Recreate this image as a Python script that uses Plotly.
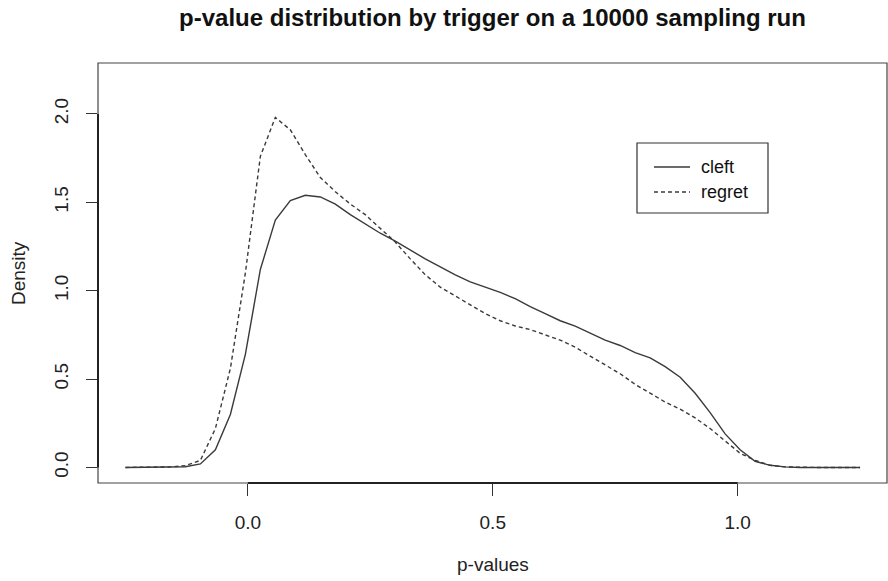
import plotly.graph_objects as go

# Evaluation grid (p-values) of the density curves
p_values = [-0.2500, -0.2194, -0.1888, -0.1582, -0.1276, -0.0969, -0.0663, -0.0357, -0.0051, 0.0255,
            0.0561, 0.0867, 0.1173, 0.1480, 0.1786, 0.2092, 0.2398, 0.2704, 0.3010, 0.3316,
            0.3622, 0.3929, 0.4235, 0.4541, 0.4847, 0.5153, 0.5459, 0.5765, 0.6071, 0.6378,
            0.6684, 0.6990, 0.7296, 0.7602, 0.7908, 0.8214, 0.8520, 0.8827, 0.9133, 0.9439,
            0.9745, 1.0051, 1.0357, 1.0663, 1.0969, 1.1276, 1.1582, 1.1888, 1.2194, 1.2500]

cleft_density = [0.0, 0.0, 0.0, 0.002, 0.004, 0.02, 0.10, 0.30, 0.64, 1.12,
                 1.40, 1.51, 1.54, 1.53, 1.49, 1.43, 1.375, 1.325, 1.28, 1.23,
                 1.18, 1.135, 1.09, 1.05, 1.02, 0.99, 0.955, 0.91, 0.87, 0.83,
                 0.80, 0.76, 0.72, 0.69, 0.65, 0.62, 0.57, 0.51, 0.42, 0.31,
                 0.19, 0.10, 0.035, 0.012, 0.003, 0.0, 0.0, 0.0, 0.0, 0.0]

regret_density = [0.0, 0.0, 0.0, 0.003, 0.01, 0.04, 0.22, 0.56, 1.10, 1.76,
                  1.98, 1.91, 1.77, 1.64, 1.56, 1.49, 1.43, 1.355, 1.275, 1.18,
                  1.09, 1.02, 0.97, 0.92, 0.87, 0.83, 0.80, 0.78, 0.75, 0.72,
                  0.68, 0.63, 0.58, 0.53, 0.47, 0.42, 0.37, 0.33, 0.28, 0.22,
                  0.15, 0.08, 0.04, 0.012, 0.003, 0.0, 0.0, 0.0, 0.0, 0.0]

series_names = ["cleft", "regret"]
series_dashes = ["solid", "4px,3px"]

x_ticks = [0.0, 0.5, 1.0]
x_tick_labels = ["0.0", "0.5", "1.0"]
y_ticks = [0.0, 0.5, 1.0, 1.5, 2.0]
y_tick_labels = ["0.0", "0.5", "1.0", "1.5", "2.0"]

FONT = "Liberation Sans, Arial, Helvetica, sans-serif"
INK = "#222222"
LINE = "#3a3a3a"
FS = 19

# pixel -> paper helpers for the fixed 888x581 canvas (plot area 98..887 x 63..483)
def px_x(px):
    return (px - 98) / 789

def px_y(py):
    return (483 - py) / 420

fig = go.Figure()
for name, ys, dash in zip(series_names, [cleft_density, regret_density], series_dashes):
    fig.add_trace(go.Scatter(x=p_values, y=ys, mode="lines", name=name, showlegend=False,
                             line=dict(color=LINE, width=1.4, dash=dash)))

# plot box
fig.add_shape(type="rect", xref="paper", yref="paper", x0=0, y0=0, x1=1, y1=1,
              line=dict(color="#444444", width=1.2), layer="above")
# R-style axis lines between first and last ticks
fig.add_shape(type="line", xref="x", yref="paper", x0=x_ticks[0], x1=x_ticks[-1], y0=0, y1=0,
              line=dict(color="#222222", width=2), layer="above")
fig.add_shape(type="line", xref="paper", yref="y", x0=0, x1=0, y0=y_ticks[0], y1=y_ticks[-1],
              line=dict(color="#222222", width=2), layer="above")

# legend box (R style)
fig.add_shape(type="rect", xref="paper", yref="paper", x0=px_x(637), x1=px_x(768),
              y0=px_y(213), y1=px_y(143), line=dict(color="#333333", width=1.2),
              fillcolor="white", layer="above")
annotations = []
for i, (name, dash) in enumerate(zip(series_names, series_dashes)):
    yy = px_y(167 + 25 * i)
    fig.add_shape(type="line", xref="paper", yref="paper", x0=px_x(654), x1=px_x(690),
                  y0=yy, y1=yy, line=dict(color=LINE, width=1.4, dash=dash), layer="above")
    annotations.append(dict(text=name, xref="paper", yref="paper", x=px_x(699), y=yy,
                            xanchor="left", yanchor="middle", showarrow=False,
                            font=dict(family=FONT, size=FS - 1, color="#111111")))

annotations += [
    dict(text="p-values", xref="paper", yref="paper", x=0.5, y=px_y(564),
         xanchor="center", yanchor="middle", showarrow=False,
         font=dict(family=FONT, size=FS, color=INK)),
    dict(text="Density", xref="paper", yref="paper", x=px_x(18), y=0.5,
         xanchor="center", yanchor="middle", textangle=-90, showarrow=False,
         font=dict(family=FONT, size=FS, color=INK)),
]

fig.update_layout(
    width=888, height=581,
    margin=dict(l=98, r=1, t=63, b=98),
    paper_bgcolor="white", plot_bgcolor="white",
    font=dict(family=FONT, size=FS, color=INK),
    title=dict(text="<b>p-value distribution by trigger on a 10000 sampling run</b>",
               x=0.5546, xanchor="center", y=1 - 18 / 581, yanchor="middle",
               font=dict(family=FONT, size=24, color="#111111")),
    showlegend=False,
    xaxis=dict(range=[-0.306, 1.305], tickvals=x_ticks, ticktext=x_tick_labels,
               showgrid=False, zeroline=False, showline=False,
               ticks="outside", ticklen=12, tickcolor="#333333", tickwidth=1,
               ticklabelstandoff=10, tickfont=dict(size=FS, color=INK)),
    yaxis=dict(range=[-0.088, 2.288], tickvals=y_ticks, ticktext=y_tick_labels,
               showgrid=False, zeroline=False, showline=False,
               ticks="outside", ticklen=11, tickcolor="#333333", tickwidth=1,
               tickangle=-90, ticklabelstandoff=10, tickfont=dict(size=FS, color=INK)),
    annotations=annotations,
)

fig.write_html("out.html", config={"displayModeBar": False},
               post_script="document.body.style.margin='0px';")
